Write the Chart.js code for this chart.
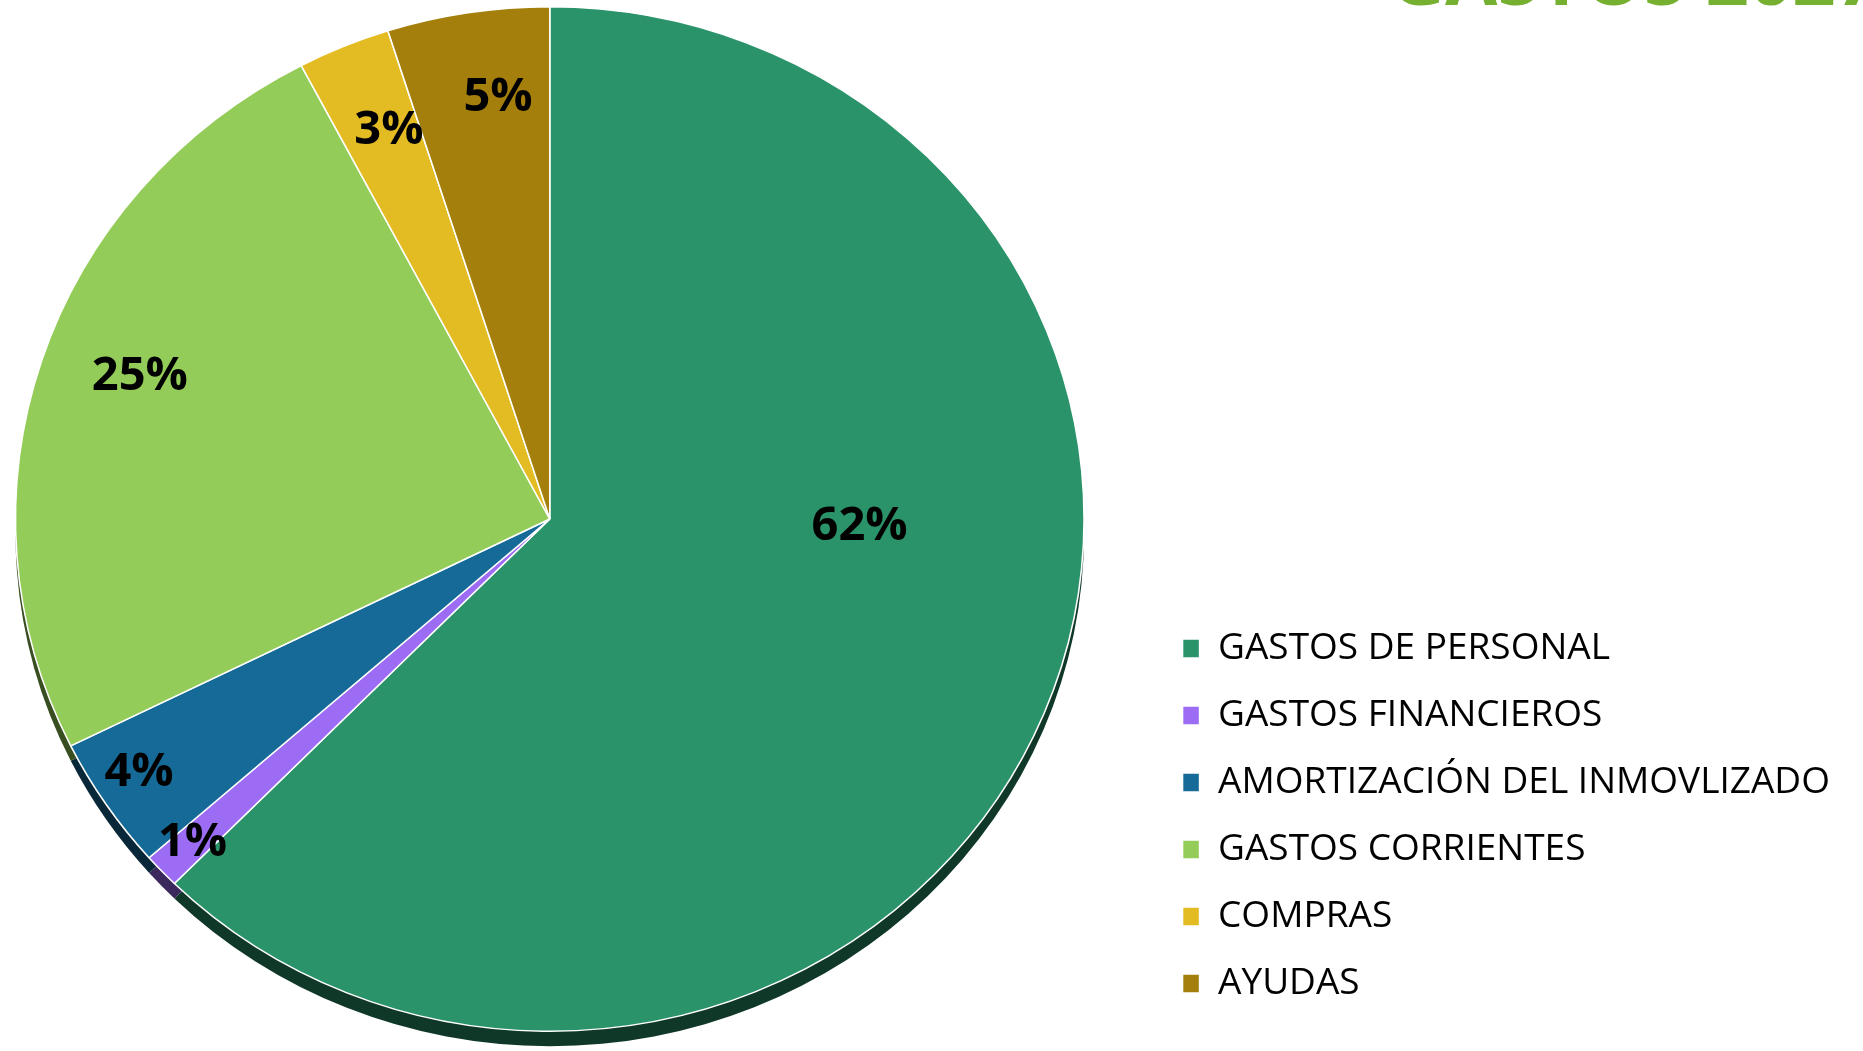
<!DOCTYPE html>
<html>
<head>
<meta charset="utf-8">
<title>Gastos</title>
<script src="https://cdn.jsdelivr.net/npm/chart.js@4.4.1/dist/chart.umd.min.js"></script>
<style>
  html, body { margin: 0; padding: 0; background: #fff; overflow: hidden; }
  /* the canvas starts a bit left of the page so the pie sits where it should */
  #wrap { width: 1916px; height: 1051px; position: absolute; left: -53px; top: 0; }
</style>
</head>
<body>
<div id="wrap"><canvas id="chart"></canvas></div>
<script>
// Datos del gráfico
const titulo = 'GASTOS 2027';
const categorias = [
    'GASTOS DE PERSONAL',
    'GASTOS FINANCIEROS',
    'AMORTIZACIÓN DEL INMOVLIZADO',
    'GASTOS CORRIENTES',
    'COMPRAS',
    'AYUDAS'
];
const porcentajes = [62.4, 1.1, 4.2, 24.6, 2.8, 4.9];

const colores = ['#2a936a', '#9c6cf5', '#166a97', '#93cc58', '#e3bb23', '#a57f0b'];

// Helper para oscurecer un color hex (canto de la tarta):
const oscurecer = (hex, f) => {
    const n = parseInt(hex.slice(1), 16);
    const r = Math.round(((n >> 16) & 255) * f);
    const g = Math.round(((n >> 8) & 255) * f);
    const b = Math.round((n & 255) * f);
    return `rgb(${r}, ${g}, ${b})`;
};

// Tarta algo achatada, con canto inferior y etiquetas de porcentaje:
const tartaPlugin = {
    id: 'tarta',
    beforeDatasetsDraw(chart, args, opts) {
        const arcs = chart.getDatasetMeta(0).data;
        const ctx = chart.ctx;
        const {x, y} = arcs[0];
        ctx.save();
        ctx.translate(x, y);
        ctx.scale(opts.sx, 1);
        ctx.translate(-x, -y);
        arcs.forEach((arc, i) => {
            ctx.beginPath();
            ctx.moveTo(arc.x, arc.y + opts.canto);
            ctx.arc(arc.x, arc.y + opts.canto, arc.outerRadius, arc.startAngle, arc.endAngle);
            ctx.closePath();
            ctx.fillStyle = oscurecer(colores[i], 0.38);
            ctx.fill();
        });
    },
    afterDatasetsDraw(chart, args, opts) {
        const ctx = chart.ctx;
        ctx.restore();

        const arcs = chart.getDatasetMeta(0).data;
        const total = porcentajes.reduce((a, b) => a + b, 0);
        ctx.save();
        ctx.font = opts.font;
        ctx.fillStyle = '#000';
        ctx.textAlign = 'center';
        ctx.textBaseline = 'middle';
        arcs.forEach((arc, i) => {
            const ang = (arc.startAngle + arc.endAngle) / 2 + opts.giro[i] * Math.PI / 180;
            const r = arc.outerRadius * opts.radio[i];
            const px = arc.x + Math.cos(ang) * r * opts.sx;
            const py = arc.y + Math.sin(ang) * r;
            ctx.fillText(`${Math.round(porcentajes[i] / total * 100)}%`, px, py);
        });
        ctx.restore();
    }
};

// Título verde, cortado arriba a la derecha:
const tituloPlugin = {
    id: 'tituloCortado',
    afterDraw(chart) {
        const ctx = chart.ctx;
        ctx.save();
        ctx.font = 'bold 76px "Open Sans"';
        ctx.fillStyle = '#76b031';
        ctx.textAlign = 'left';
        ctx.textBaseline = 'alphabetic';
        ctx.fillText(titulo, 1443, 5);
        ctx.restore();
    }
};

new Chart(document.getElementById('chart'), {
    type: 'pie',
    data: {
        labels: categorias,
        datasets: [{
            data: porcentajes,
            backgroundColor: colores,
            borderColor: '#ffffff',
            borderWidth: 1.5
        }]
    },
    options: {
        responsive: true,
        maintainAspectRatio: false,
        animation: false,
        events: [],
        layout: {
            padding: { left: 0, right: 23, top: 6, bottom: 19 }
        },
        plugins: {
            legend: {
                position: 'right',
                align: 'end',
                labels: {
                    boxWidth: 17,
                    boxHeight: 19,
                    padding: 30,
                    color: '#000',
                    font: { family: 'Open Sans', size: 37 }
                }
            },
            tooltip: { enabled: false },
            tarta: {
                sx: 1.043,
                canto: 15,
                font: 'bold 47px "Open Sans"',
                radio: [0.58, 0.92, 0.914, 0.816, 0.815, 0.828],
                giro: [-20.9, 0, 1.1, 1.9, 1, 2.1]
            }
        }
    },
    plugins: [tartaPlugin, tituloPlugin]
});
</script>
</body>
</html>
